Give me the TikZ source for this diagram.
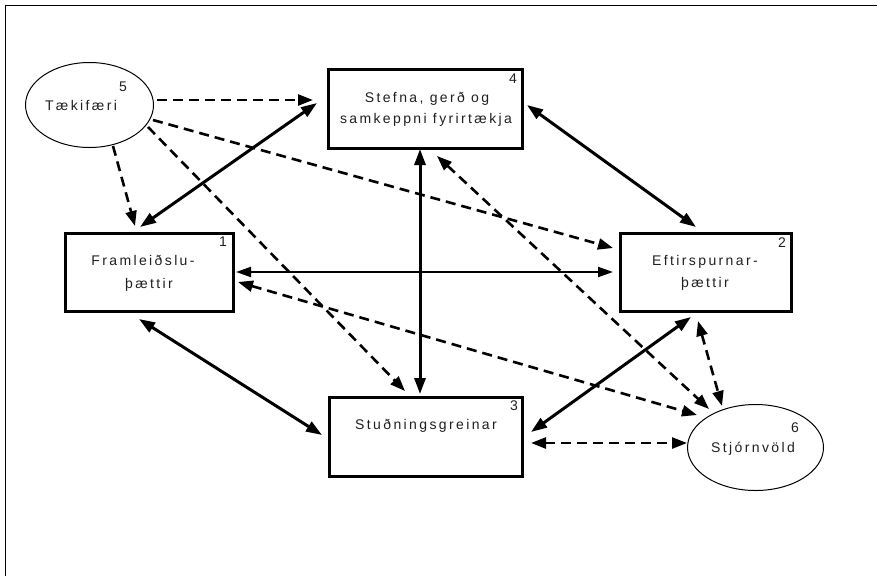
\documentclass[tikz,border=0pt]{standalone}
\usepackage{fontspec}
\setmainfont{Liberation Sans}
\newfontfamily\spaced[LetterSpace=17]{Liberation Sans}
\usetikzlibrary{arrows.meta,calc,shapes.geometric}
\begin{document}
\begin{tikzpicture}[x=1pt,y=-1pt,
  boxnode/.style={draw, line width=3pt, inner sep=0pt},
  ellnode/.style={draw, ellipse, line width=1pt, inner sep=0pt},
  lbl/.style={font=\spaced\fontsize{14}{16}\selectfont, inner sep=0pt, text=black!88},
  num/.style={font=\fontsize{14}{16}\selectfont, inner sep=0pt, text=black!88},
  solidthick/.style={line width=3pt, {Triangle[length=16pt,width=11pt]}-{Triangle[length=16pt,width=11pt]}},
  solidthin/.style={line width=2pt, {Triangle[length=15pt,width=10pt]}-{Triangle[length=15pt,width=10pt]}},
  dsh/.style={line width=2.6pt, dash pattern=on 10pt off 6pt, -{Triangle[length=15pt,width=11pt]}},
  dshboth/.style={line width=2.6pt, dash pattern=on 10pt off 6pt, {Triangle[length=15pt,width=11pt]}-{Triangle[length=15pt,width=11pt]}}
]
\useasboundingbox (0,0) rectangle (877,576);
% frame
\coordinate (fr1) at (5.5,576);
\coordinate (fr2) at (5.5,5.5);
\coordinate (fr3) at (877,5.5);
\draw[line width=1.6pt] (fr1) -- (fr2) -- (fr3);

% nodes
\node[ellnode, minimum width=128pt, minimum height=85pt] (e5) at (89.5,105) {};
\node[boxnode, minimum width=194pt, minimum height=79pt] (b4) at (425.5,109) {};
\node[boxnode, minimum width=168pt, minimum height=78pt] (b1) at (149.5,272.5) {};
\node[boxnode, minimum width=171pt, minimum height=78pt] (b2) at (706,272.5) {};
\node[boxnode, minimum width=193pt, minimum height=79pt] (b3) at (426,437) {};
\node[ellnode, minimum width=136pt, minimum height=86pt] (e6) at (755.5,447.5) {};

% labels
\node[num] (n5) at (123,87) {5};
\node[lbl] (t5) at (81,105) {Tækifæri};
\node[num] (n4) at (513,79) {4};
\node[lbl] (t4a) at (427,99) {Stefna, gerð og};
\node[lbl] (t4b) at (426,120) {samkeppni fyrirtækja};
\node[num] (n1) at (223,242) {1};
\node[lbl] (t1a) at (143,260) {Framleiðslu-};
\node[lbl] (t1b) at (149,285) {þættir};
\node[num] (n2) at (782,243) {2};
\node[lbl] (t2a) at (705,262) {Eftirspurnar-};
\node[lbl] (t2b) at (705,284) {þættir};
\node[num] (n3) at (514,406) {3};
\node[lbl] (t3) at (426,426) {Stuðningsgreinar};
\node[num] (n6) at (795,428) {6};
\node[lbl] (t6) at (753,449) {Stjórnvöld};

% solid connectors
\draw[solidthick] ($(b1)+(-9.5,-45.5)$) -- ($(b4)+(-108.5,-6)$);
\draw[solidthick] ($(b4)+(101.5,-4)$) -- ($(b2)+(-10,-45.5)$);
\draw[solidthick] ($(b4)+(-5.5,40)$) -- ($(b3)+(-6,-43)$);
\draw[solidthin] ($(b1)+(86.5,-0.5)$) -- ($(b2)+(-93,-0.5)$);
\draw[solidthick] ($(b1)+(-10.5,46.5)$) -- ($(b3)+(-104,-2)$);
\draw[solidthick] ($(b2)+(-15,44.5)$) -- ($(b3)+(105,-5)$);

% dashed connectors
\draw[dsh] ($(e5)+(67.5,-5)$) -- ($(b4)+(-112.5,-9)$);
\draw[dsh] ($(e5)+(23.5,41)$) -- ($(b1)+(-14.5,-46.5)$);
\draw[dsh] ($(e5)+(63.5,15)$) -- ($(b2)+(-93,-24.5)$);
\draw[dsh] ($(e5)+(58.5,22)$) -- ($(b3)+(-21,-46)$);
\draw[dshboth] ($(b4)+(11.5,47)$) -- ($(e6)+(-46.5,-38.5)$);
\draw[dshboth] ($(b1)+(88.5,9.5)$) -- ($(e6)+(-58.5,-32.5)$);
\draw[dshboth] ($(b2)+(-8,48.5)$) -- ($(e6)+(-33.5,-41.5)$);
\draw[dshboth] ($(b3)+(105,6)$) -- ($(e6)+(-68.5,-4.5)$);
\end{tikzpicture}
\end{document}
